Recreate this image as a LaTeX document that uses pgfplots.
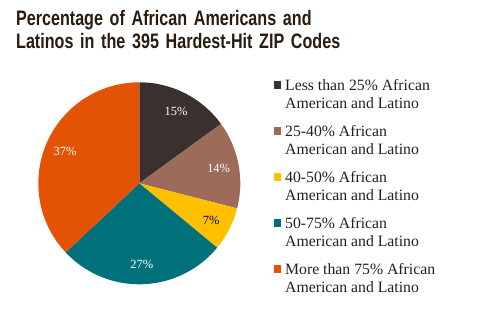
\documentclass[border=0pt]{standalone}
\usepackage{pgfplots}
\pgfplotsset{compat=1.18}
\usepackage{pgfplotstable}
\usepackage{fontspec}
\setmainfont{Liberation Serif}
\newfontfamily\titlefont[FakeStretch=0.77, WordSpace=1.5]{Liberation Sans}
\definecolor{c1}{HTML}{3A302F}
\definecolor{c2}{HTML}{9C6B5A}
\definecolor{c3}{HTML}{FFC000}
\definecolor{c4}{HTML}{00717A}
\definecolor{c5}{HTML}{E35205}
\definecolor{titlecol}{HTML}{2B1B0F}
\definecolor{legcol}{HTML}{231F20}

\pgfplotstableread{
share fillcolor labelcolor
15 c1 white
14 c2 white
7 c3 black
27 c4 white
37 c5 white
}\piedata

\begin{document}
\begin{tikzpicture}
\useasboundingbox (0,0) rectangle (487bp,326bp);
\node[anchor=base west, inner sep=0pt, text=titlecol, font=\titlefont\bfseries\fontsize{21}{23}\selectfont] at (16bp,300.3bp) {Percentage of African Americans and};
\node[anchor=base west, inner sep=0pt, text=titlecol, font=\titlefont\bfseries\fontsize{21}{23}\selectfont] at (16bp,277.7bp) {Latinos in the 395 Hardest-Hit ZIP Codes};
\begin{axis}[
  at={(139.3bp,142.7bp)}, anchor=center,
  scale only axis, width=202bp, height=202bp,
  xmin=-1, xmax=1, ymin=-1, ymax=1,
  hide axis, clip=false,
  legend cell align=left,
  legend style={at={(axis description cs:1.1634,1.0238)}, anchor=north west,
    draw=none, fill=none, inner sep=0pt, row sep=13.5bp, column sep=4bp,
    text=legcol, font=\fontsize{15.8}{18.3}\selectfont,
    nodes={inner sep=0pt, align=left}, cells={anchor=base west}},
  legend image code/.code={\fill[#1] (0bp,19.8bp) rectangle (7.7bp,27.6bp);},
]
\addlegendimage{fill=c1, draw=none}
\addlegendentry{\strut Less than 25\% African\\\strut American and Latino}
\addlegendimage{fill=c2, draw=none}
\addlegendentry{\strut 25-40\% African\\\strut American and Latino}
\addlegendimage{fill=c3, draw=none}
\addlegendentry{\strut 40-50\% African\\\strut American and Latino}
\addlegendimage{fill=c4, draw=none}
\addlegendentry{\strut 50-75\% African\\\strut American and Latino}
\addlegendimage{fill=c5, draw=none}
\addlegendentry{\strut More than 75\% African\\\strut American and Latino}
\pgfplotsextra{%
  \pgfplotstablegetrowsof{\piedata}%
  \pgfmathtruncatemacro{\lastrow}{\pgfplotsretval-1}%
  \gdef\cum{0}%
  \foreach \i in {0,...,\lastrow}{%
    \pgfplotstablegetelem{\i}{share}\of\piedata \let\pv\pgfplotsretval
    \pgfplotstablegetelem{\i}{fillcolor}\of\piedata \let\pc\pgfplotsretval
    \pgfplotstablegetelem{\i}{labelcolor}\of\piedata \let\lc\pgfplotsretval
    \pgfmathsetmacro\sa{90-3.6*\cum}%
    \pgfmathsetmacro\ea{90-3.6*(\cum+\pv)}%
    \pgfmathsetmacro\ma{(\sa+\ea)/2}%
    \fill[\pc] (axis cs:0,0) -- (axis cs:{cos(\sa)},{sin(\sa)}) arc[start angle=\sa, end angle=\ea, radius=101bp] -- cycle;
    \node[text=\lc, font=\fontsize{12.5}{14}\selectfont] at (axis cs:{0.8*cos(\ma)},{0.8*sin(\ma)}) {\pv\%};
    \pgfmathsetmacro\nc{\cum+\pv}%
    \xdef\cum{\nc}%
  }%
}
\end{axis}
\end{tikzpicture}
\end{document}
